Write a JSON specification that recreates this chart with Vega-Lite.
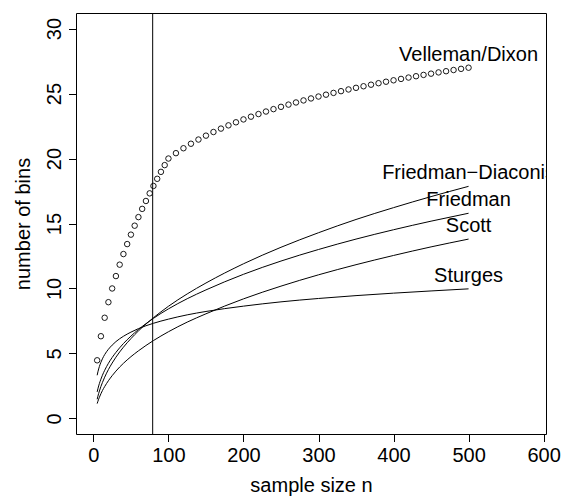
{
  "$schema": "https://vega.github.io/schema/vega-lite/v6.json",
  "autosize": "none",
  "width": 470,
  "height": 421,
  "padding": {"left": 76, "top": 13, "right": 15, "bottom": 64},
  "background": "white",
  "config": {
    "view": {"stroke": "black", "strokeWidth": 1},
    "font": "Liberation Sans",
    "axis": {
      "domain": false,
      "grid": false,
      "ticks": true,
      "tickColor": "black",
      "tickSize": 7.5,
      "tickWidth": 1,
      "labelFont": "Liberation Sans",
      "labelFontSize": 20,
      "labelColor": "black",
      "titleFont": "Liberation Sans",
      "titleFontSize": 20,
      "titleFontWeight": "normal",
      "titleColor": "black"
    }
  },
  "datasets": {
    "vd": [
      {"n": 5, "bins": 4.472}, {"n": 10, "bins": 6.325}, {"n": 15, "bins": 7.746}, {"n": 20, "bins": 8.944},
      {"n": 25, "bins": 10.0}, {"n": 30, "bins": 10.954}, {"n": 35, "bins": 11.832}, {"n": 40, "bins": 12.649},
      {"n": 45, "bins": 13.416}, {"n": 50, "bins": 14.142}, {"n": 55, "bins": 14.832}, {"n": 60, "bins": 15.492},
      {"n": 65, "bins": 16.125}, {"n": 70, "bins": 16.733}, {"n": 75, "bins": 17.321}, {"n": 80, "bins": 17.889},
      {"n": 85, "bins": 18.439}, {"n": 90, "bins": 18.974}, {"n": 95, "bins": 19.494}, {"n": 100, "bins": 20.0},
      {"n": 110, "bins": 20.414}, {"n": 120, "bins": 20.792}, {"n": 130, "bins": 21.139}, {"n": 140, "bins": 21.461},
      {"n": 150, "bins": 21.761}, {"n": 160, "bins": 22.041}, {"n": 170, "bins": 22.304}, {"n": 180, "bins": 22.553},
      {"n": 190, "bins": 22.788}, {"n": 200, "bins": 23.010}, {"n": 210, "bins": 23.222}, {"n": 220, "bins": 23.424},
      {"n": 230, "bins": 23.617}, {"n": 240, "bins": 23.802}, {"n": 250, "bins": 23.979}, {"n": 260, "bins": 24.150},
      {"n": 270, "bins": 24.314}, {"n": 280, "bins": 24.472}, {"n": 290, "bins": 24.624}, {"n": 300, "bins": 24.771},
      {"n": 310, "bins": 24.914}, {"n": 320, "bins": 25.051}, {"n": 330, "bins": 25.185}, {"n": 340, "bins": 25.315},
      {"n": 350, "bins": 25.441}, {"n": 360, "bins": 25.563}, {"n": 370, "bins": 25.682}, {"n": 380, "bins": 25.798},
      {"n": 390, "bins": 25.911}, {"n": 400, "bins": 26.021}, {"n": 410, "bins": 26.128}, {"n": 420, "bins": 26.232},
      {"n": 430, "bins": 26.335}, {"n": 440, "bins": 26.435}, {"n": 450, "bins": 26.532}, {"n": 460, "bins": 26.628},
      {"n": 470, "bins": 26.721}, {"n": 480, "bins": 26.812}, {"n": 490, "bins": 26.902}, {"n": 500, "bins": 26.990}
    ],
    "curves": [
      {"method": "Sturges", "n": 5, "bins": 3.32}, {"method": "Sturges", "n": 6, "bins": 3.585}, {"method": "Sturges", "n": 7, "bins": 3.807},
      {"method": "Sturges", "n": 8, "bins": 4.0}, {"method": "Sturges", "n": 10, "bins": 4.32}, {"method": "Sturges", "n": 12, "bins": 4.585},
      {"method": "Sturges", "n": 15, "bins": 4.91}, {"method": "Sturges", "n": 20, "bins": 5.32}, {"method": "Sturges", "n": 25, "bins": 5.64},
      {"method": "Sturges", "n": 30, "bins": 5.91}, {"method": "Sturges", "n": 40, "bins": 6.32}, {"method": "Sturges", "n": 50, "bins": 6.64},
      {"method": "Sturges", "n": 60, "bins": 6.91}, {"method": "Sturges", "n": 70, "bins": 7.13}, {"method": "Sturges", "n": 80, "bins": 7.32},
      {"method": "Sturges", "n": 90, "bins": 7.49}, {"method": "Sturges", "n": 100, "bins": 7.64}, {"method": "Sturges", "n": 125, "bins": 7.97},
      {"method": "Sturges", "n": 150, "bins": 8.23}, {"method": "Sturges", "n": 200, "bins": 8.64}, {"method": "Sturges", "n": 250, "bins": 8.97},
      {"method": "Sturges", "n": 300, "bins": 9.23}, {"method": "Sturges", "n": 350, "bins": 9.45}, {"method": "Sturges", "n": 400, "bins": 9.64},
      {"method": "Sturges", "n": 450, "bins": 9.81}, {"method": "Sturges", "n": 500, "bins": 9.97},

      {"method": "Scott", "n": 5, "bins": 1.14}, {"method": "Scott", "n": 6, "bins": 1.32}, {"method": "Scott", "n": 7, "bins": 1.48},
      {"method": "Scott", "n": 8, "bins": 1.63}, {"method": "Scott", "n": 10, "bins": 1.90}, {"method": "Scott", "n": 12, "bins": 2.14},
      {"method": "Scott", "n": 15, "bins": 2.45}, {"method": "Scott", "n": 20, "bins": 2.90}, {"method": "Scott", "n": 25, "bins": 3.29},
      {"method": "Scott", "n": 30, "bins": 3.64}, {"method": "Scott", "n": 40, "bins": 4.24}, {"method": "Scott", "n": 50, "bins": 4.75},
      {"method": "Scott", "n": 60, "bins": 5.20}, {"method": "Scott", "n": 70, "bins": 5.61}, {"method": "Scott", "n": 80, "bins": 5.99},
      {"method": "Scott", "n": 90, "bins": 6.34}, {"method": "Scott", "n": 100, "bins": 6.67}, {"method": "Scott", "n": 125, "bins": 7.41},
      {"method": "Scott", "n": 150, "bins": 8.05}, {"method": "Scott", "n": 200, "bins": 9.20}, {"method": "Scott", "n": 250, "bins": 10.18},
      {"method": "Scott", "n": 300, "bins": 11.05}, {"method": "Scott", "n": 350, "bins": 11.83}, {"method": "Scott", "n": 400, "bins": 12.54},
      {"method": "Scott", "n": 450, "bins": 13.20}, {"method": "Scott", "n": 500, "bins": 13.80},

      {"method": "FD", "n": 5, "bins": 1.47}, {"method": "FD", "n": 6, "bins": 1.71}, {"method": "FD", "n": 7, "bins": 1.92},
      {"method": "FD", "n": 8, "bins": 2.11}, {"method": "FD", "n": 10, "bins": 2.46}, {"method": "FD", "n": 12, "bins": 2.76},
      {"method": "FD", "n": 15, "bins": 3.17}, {"method": "FD", "n": 20, "bins": 3.76}, {"method": "FD", "n": 25, "bins": 4.26},
      {"method": "FD", "n": 30, "bins": 4.71}, {"method": "FD", "n": 40, "bins": 5.48}, {"method": "FD", "n": 50, "bins": 6.14},
      {"method": "FD", "n": 60, "bins": 6.73}, {"method": "FD", "n": 70, "bins": 7.26}, {"method": "FD", "n": 80, "bins": 7.75},
      {"method": "FD", "n": 90, "bins": 8.20}, {"method": "FD", "n": 100, "bins": 8.63}, {"method": "FD", "n": 125, "bins": 9.58},
      {"method": "FD", "n": 150, "bins": 10.42}, {"method": "FD", "n": 200, "bins": 11.90}, {"method": "FD", "n": 250, "bins": 13.17},
      {"method": "FD", "n": 300, "bins": 14.29}, {"method": "FD", "n": 350, "bins": 15.31}, {"method": "FD", "n": 400, "bins": 16.22},
      {"method": "FD", "n": 450, "bins": 17.07}, {"method": "FD", "n": 500, "bins": 17.86},

      {"method": "Friedman", "n": 5, "bins": 2.04}, {"method": "Friedman", "n": 6, "bins": 2.28}, {"method": "Friedman", "n": 7, "bins": 2.50},
      {"method": "Friedman", "n": 8, "bins": 2.69}, {"method": "Friedman", "n": 10, "bins": 3.02}, {"method": "Friedman", "n": 12, "bins": 3.32},
      {"method": "Friedman", "n": 15, "bins": 3.70}, {"method": "Friedman", "n": 20, "bins": 4.24}, {"method": "Friedman", "n": 25, "bins": 4.69},
      {"method": "Friedman", "n": 30, "bins": 5.08}, {"method": "Friedman", "n": 40, "bins": 5.76}, {"method": "Friedman", "n": 50, "bins": 6.33},
      {"method": "Friedman", "n": 60, "bins": 6.84}, {"method": "Friedman", "n": 70, "bins": 7.29}, {"method": "Friedman", "n": 80, "bins": 7.70},
      {"method": "Friedman", "n": 90, "bins": 8.08}, {"method": "Friedman", "n": 100, "bins": 8.43}, {"method": "Friedman", "n": 125, "bins": 9.21},
      {"method": "Friedman", "n": 150, "bins": 9.89}, {"method": "Friedman", "n": 200, "bins": 11.09}, {"method": "Friedman", "n": 250, "bins": 12.11},
      {"method": "Friedman", "n": 300, "bins": 13.00}, {"method": "Friedman", "n": 350, "bins": 13.80}, {"method": "Friedman", "n": 400, "bins": 14.52},
      {"method": "Friedman", "n": 450, "bins": 15.18}, {"method": "Friedman", "n": 500, "bins": 15.79}
    ],
    "labels": [
      {"label": "Velleman/Dixon", "n": 500, "bins": 28.0},
      {"label": "Friedman\u2212Diaconis", "n": 500, "bins": 18.86},
      {"label": "Friedman", "n": 500, "bins": 16.79},
      {"label": "Scott", "n": 500, "bins": 14.8},
      {"label": "Sturges", "n": 500, "bins": 10.97}
    ],
    "vline": [{"n": 79}]
  },
  "layer": [
    {
      "data": {"name": "vd"},
      "mark": {"type": "point", "shape": "circle", "filled": false, "stroke": "black", "strokeWidth": 0.9, "size": 30, "opacity": 1},
      "encoding": {
        "x": {
          "field": "n", "type": "quantitative",
          "scale": {"domain": [-23.2, 603.2], "nice": false, "zero": false},
          "axis": {"values": [0, 100, 200, 300, 400, 500, 600], "title": "sample size n", "labelPadding": 4, "titleY": 57, "titleBaseline": "alphabetic"}
        },
        "y": {
          "field": "bins", "type": "quantitative",
          "scale": {"domain": [-1.2, 31.2], "nice": false, "zero": false},
          "axis": {"values": [0, 5, 10, 15, 20, 25, 30], "title": "number of bins", "labelAngle": 270, "labelAlign": "center", "labelBaseline": "alphabetic", "labelPadding": 8, "titleX": -47, "titleBaseline": "alphabetic", "titleAngle": 270, "titleAlign": "center"}
        }
      }
    },
    {
      "data": {"name": "curves"},
      "mark": {"type": "line", "color": "black", "strokeWidth": 1, "interpolate": "monotone"},
      "encoding": {
        "x": {"field": "n", "type": "quantitative"},
        "y": {"field": "bins", "type": "quantitative"},
        "detail": {"field": "method", "type": "nominal"}
      }
    },
    {
      "data": {"name": "vline"},
      "mark": {"type": "rule", "color": "black", "strokeWidth": 1},
      "encoding": {"x": {"field": "n", "type": "quantitative"}}
    },
    {
      "data": {"name": "labels"},
      "mark": {"type": "text", "font": "Liberation Sans", "fontSize": 20, "color": "black", "align": "center", "baseline": "middle", "clip": true},
      "encoding": {
        "x": {"field": "n", "type": "quantitative"},
        "y": {"field": "bins", "type": "quantitative"},
        "text": {"field": "label", "type": "nominal"}
      }
    }
  ]
}
